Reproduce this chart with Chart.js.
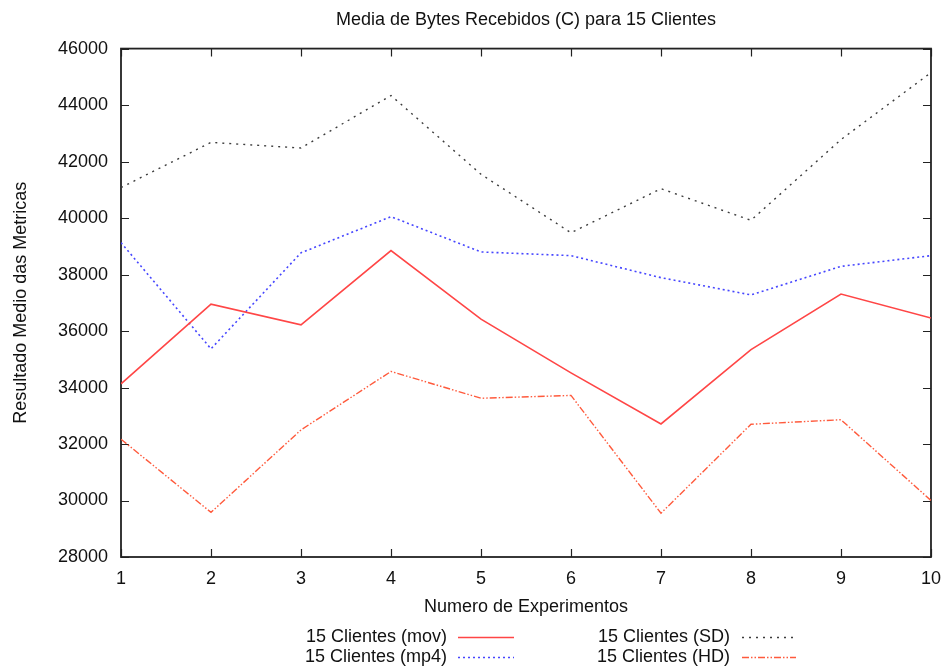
<!DOCTYPE html>
<html>
<head>
<meta charset="utf-8">
<title>Media de Bytes Recebidos (C) para 15 Clientes</title>
<script src="https://cdn.jsdelivr.net/npm/chart.js@4/dist/chart.umd.min.js"></script>
<style>
  html, body { margin: 0; padding: 0; background: #fff; }
  #wrap { width: 944px; height: 670px; }
</style>
</head>
<body>
<div id="wrap"><canvas id="lineChart" width="944" height="670"></canvas></div>
<script>
// experiment numbers (x axis)
var experimentos = [1, 2, 3, 4, 5, 6, 7, 8, 9, 10];

// series values
var movData = [34130, 36950, 36220, 38850, 36420, 34520, 32710, 35340, 37310, 36460];
var mp4Data = [39130, 35370, 38770, 40050, 38800, 38670, 37890, 37280, 38290, 38670];
var sdData  = [41080, 42680, 42480, 44340, 41550, 39480, 41040, 39920, 42780, 45150];
var hdData  = [32170, 29580, 32500, 34570, 33620, 33720, 29550, 32700, 32860, 30000];

// axis ticks
var yTicks = [28000, 30000, 32000, 34000, 36000, 38000, 40000, 42000, 44000, 46000];

var fontFamily = '"Liberation Sans", Arial, Helvetica, sans-serif';
Chart.defaults.font.family = fontFamily;
Chart.defaults.font.size = 18;
Chart.defaults.color = '#111';

function pts(vals) {
    return vals.map(function (v, i) { return {x: experimentos[i], y: v}; });
}

// gnuplot style frame with inward ticks on all sides
var framePlugin = {
    id: 'frame',
    beforeDatasetsDraw: function (chart) {
        var ctx = chart.ctx, a = chart.chartArea;
        var xs = chart.scales.x, ys = chart.scales.y;
        var len = 8;
        ctx.save();
        ctx.strokeStyle = '#222';
        ctx.lineWidth = 1.2;
        ctx.beginPath();
        experimentos.forEach(function (v) {
            var px = Math.round(xs.getPixelForValue(v)) + 0.5;
            ctx.moveTo(px, a.bottom); ctx.lineTo(px, a.bottom - len);
            ctx.moveTo(px, a.top); ctx.lineTo(px, a.top + len);
        });
        yTicks.forEach(function (v) {
            var py = Math.round(ys.getPixelForValue(v)) + 0.5;
            ctx.moveTo(a.left, py); ctx.lineTo(a.left + len, py);
            ctx.moveTo(a.right, py); ctx.lineTo(a.right - len, py);
        });
        ctx.stroke();
        ctx.lineWidth = 1.8;
        ctx.strokeRect(a.left, a.top, a.right - a.left, a.bottom - a.top);
        ctx.restore();
    }
};

// legend below the plot: text right-aligned, line sample to the right
var legendPlugin = {
    id: 'bottomLegend',
    afterDraw: function (chart) {
        var ctx = chart.ctx;
        var cols = [{textRight: 447, x0: 458, x1: 514}, {textRight: 730, x0: 742, x1: 796}];
        var rows = [637, 657];
        ctx.save();
        ctx.font = '18px ' + fontFamily;
        ctx.textAlign = 'right';
        ctx.textBaseline = 'middle';
        chart.data.datasets.forEach(function (ds, i) {
            var c = cols[Math.floor(i / 2)], y = rows[i % 2];
            ctx.fillStyle = '#111';
            ctx.fillText(ds.label, c.textRight, y);
            ctx.strokeStyle = ds.borderColor;
            ctx.lineWidth = ds.borderWidth;
            ctx.setLineDash(ds.borderDash || []);
            ctx.beginPath();
            ctx.moveTo(c.x0, y + 0.5);
            ctx.lineTo(c.x1, y + 0.5);
            ctx.stroke();
        });
        ctx.restore();
    }
};

var lineData = {
    datasets: [
        {
            label: '15 Clientes (mov)',
            data: pts(movData),
            borderColor: 'rgb(255,70,70)',
            borderWidth: 1.6,
            borderDash: []
        }, {
            label: '15 Clientes (mp4)',
            data: pts(mp4Data),
            borderColor: 'rgb(70,70,255)',
            borderWidth: 1.6,
            borderDash: [2, 3]
        }, {
            label: '15 Clientes (SD)',
            data: pts(sdData),
            borderColor: 'rgb(60,60,60)',
            borderWidth: 1.4,
            borderDash: [2, 5]
        }, {
            label: '15 Clientes (HD)',
            data: pts(hdData),
            borderColor: 'rgb(255,90,60)',
            borderWidth: 1.4,
            borderDash: [7, 2, 1.5, 2, 1.5, 2]
        }
    ]
};

var lineOptions = {
    responsive: false,
    animation: false,
    devicePixelRatio: 1,
    layout: {padding: {left: 0, right: 5, top: 0, bottom: 52}},
    elements: {
        point: {radius: 0},
        line: {tension: 0, fill: false}
    },
    plugins: {
        legend: {display: false},
        tooltip: {enabled: false},
        title: {
            display: true,
            fullSize: false,
            text: 'Media de Bytes Recebidos (C) para 15 Clientes',
            color: '#111',
            font: {size: 18, weight: 'normal'},
            padding: {top: 9, bottom: 18}
        }
    },
    scales: {
        x: {
            type: 'linear',
            min: 1,
            max: 10,
            grid: {display: false},
            border: {display: false},
            ticks: {stepSize: 1, padding: 3, color: '#111'},
            title: {display: true, text: 'Numero de Experimentos', color: '#111', padding: {top: 8, bottom: 0}},
            afterFit: function (s) { s.height = 61; }
        },
        y: {
            min: 28000,
            max: 46000,
            grid: {display: false},
            border: {display: false},
            afterBuildTicks: function (s) { s.ticks = yTicks.map(function (v) { return {value: v}; }); },
            ticks: {
                padding: 5,
                color: '#111',
                callback: function (v) { return String(v); }
            },
            title: {display: true, text: 'Resultado Medio das Metricas', color: '#111', padding: {top: 10, bottom: 0}},
            afterFit: function (s) { s.width = 121; }
        }
    }
};

var ctx = document.getElementById('lineChart').getContext('2d');
new Chart(ctx, {type: 'line', data: lineData, options: lineOptions, plugins: [framePlugin, legendPlugin]});
</script>
</body>
</html>
